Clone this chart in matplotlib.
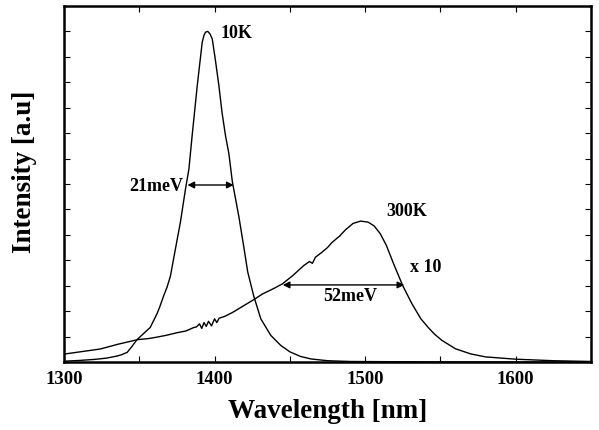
import matplotlib
matplotlib.use("Agg")
from matplotlib import pyplot as plt
from matplotlib.ticker import MultipleLocator, NullFormatter

plt.rcParams["font.family"] = ["Liberation Serif", "DejaVu Serif"]
plt.rcParams["font.weight"] = "bold"

# 10K spectrum (wavelength nm, intensity a.u.)
wl_10k = [1300, 1310, 1320, 1328, 1335, 1338, 1342, 1345, 1348.4, 1352, 1357.3,
          1361.8, 1363.5, 1366.2, 1368.5, 1370.7, 1374, 1377.3, 1380.7, 1383, 1385.1,
          1388.5, 1391.8, 1393, 1394, 1395.5, 1397, 1398.5, 1400.5, 1402.9, 1405,
          1407.3, 1409.5, 1411.8, 1414, 1416.2, 1419.5, 1422, 1426, 1430.7, 1437.3,
          1444, 1450, 1457, 1464, 1475, 1490, 1520, 1560, 1600, 1650]
int_10k = [0.03, 0.06, 0.1, 0.15, 0.23, 0.28, 0.38, 0.6, 0.87, 1.07, 1.36,
           1.9, 2.15, 2.6, 2.95, 3.38, 4.44, 5.49, 6.8, 7.6, 8.89,
           10.86, 12.57, 12.85, 12.97, 13.0, 12.9, 12.7, 11.9, 10.86, 9.8,
           8.89, 8.2, 7.1, 6.4, 5.7, 4.5, 3.55, 2.6, 1.7, 1.05,
           0.65, 0.4, 0.22, 0.12, 0.05, 0.02, 0.01, 0.0, 0.0, 0.0]

# 300K spectrum (x10)
wl_300k = [1300, 1312, 1324, 1336, 1349, 1356, 1362, 1368, 1375, 1381, 1386, 1388,
           1390, 1391.5, 1393, 1394.5, 1396, 1398, 1400, 1401.5, 1403, 1407, 1412,
           1419, 1426, 1432, 1439, 1445, 1452, 1459, 1463, 1465, 1467, 1471, 1475,
           1478, 1481, 1483, 1487, 1492, 1497, 1502, 1506, 1510, 1514, 1519, 1525,
           1531, 1537, 1542, 1546, 1551, 1560, 1570, 1580, 1600, 1625, 1650]
int_300k = [0.31, 0.41, 0.51, 0.7, 0.88, 0.92, 0.98, 1.05, 1.15, 1.22, 1.35, 1.38,
            1.5, 1.32, 1.55, 1.4, 1.6, 1.42, 1.7, 1.55, 1.72, 1.8, 1.95,
            2.2, 2.45, 2.68, 2.88, 3.07, 3.4, 3.78, 3.95, 3.88, 4.12, 4.3, 4.5,
            4.7, 4.85, 4.95, 5.2, 5.45, 5.54, 5.5, 5.35, 5.05, 4.6, 3.85, 3.0,
            2.3, 1.7, 1.35, 1.1, 0.85, 0.52, 0.32, 0.2, 0.11, 0.05, 0.02]

# FWHM arrows: (start, end, level)
fwhm_10k = (1382, 1412.7, 6.96)
fwhm_300k = (1445.3, 1526, 3.03)

fig = plt.figure(figsize=(5.99, 4.31), dpi=100)
ax = fig.add_axes([0.1068, 0.1578, 0.8798, 0.826])

ax.plot(wl_10k, int_10k, color="black", linewidth=1.0)
ax.plot(wl_300k, int_300k, color="black", linewidth=1.0)

for x0, x1, y in (fwhm_10k, fwhm_300k):
    ax.annotate("", xy=(x1, y), xytext=(x0, y),
                arrowprops=dict(arrowstyle="<|-|>", color="black", lw=1.0,
                                mutation_scale=10, shrinkA=0, shrinkB=0))

txt = dict(fontsize=13, fontweight="bold", va="center")
ax.text(1404, 12.95, "10K", ha="left", **txt)
ax.text(1379.3, 6.96, "21meV", ha="right", **txt)
ax.text(1514, 5.94, "300K", ha="left", **txt)
ax.text(1530, 3.74, "x 10", ha="left", **txt)
ax.text(1490, 2.63, "52meV", ha="center", **txt)

ax.set_xlim(1300, 1650)
ax.set_ylim(0, 14)
ax.xaxis.set_major_locator(MultipleLocator(100))
ax.xaxis.set_minor_locator(MultipleLocator(50))
ax.yaxis.set_major_locator(MultipleLocator(1))
ax.yaxis.set_major_formatter(NullFormatter())
ax.tick_params(which="both", direction="in", top=True, right=True, length=4, width=0.8)
ax.tick_params(axis="x", labelsize=13.5, pad=6)
for lab in ax.get_xticklabels():
    lab.set_fontweight("bold")
for spine in ax.spines.values():
    spine.set_linewidth(1.8)

ax.set_xlabel("Wavelength [nm]", fontsize=19.5, fontweight="bold", labelpad=8)
ax.set_ylabel("Intensity [a.u]", fontsize=19.5, fontweight="bold")
ax.yaxis.set_label_coords(-0.051, 0.536)

fig.savefig("out.png", dpi=100)
